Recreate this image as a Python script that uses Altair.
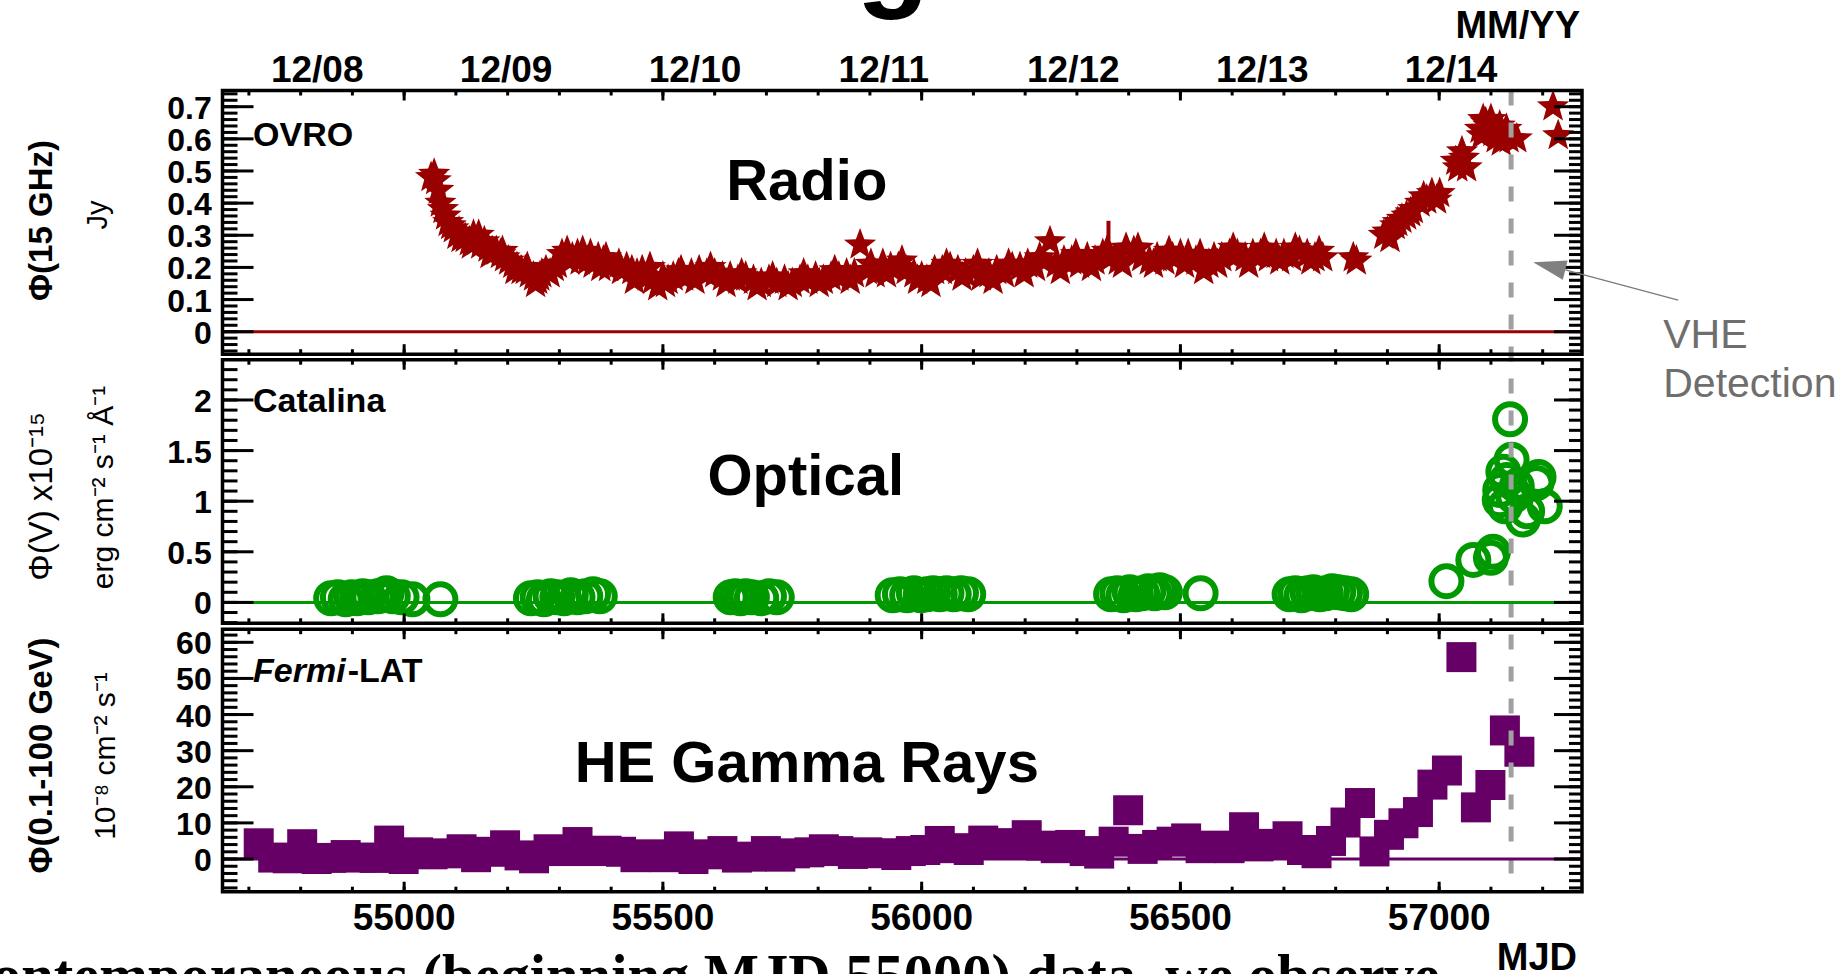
import altair as alt
import pandas as pd

# ---------------- data ----------------
radio_mjd = [55052, 55058, 55061, 55066, 55070, 55075, 55080, 55085, 55090, 55095, 55102, 55110, 55118, 55126,
             55134, 55140, 55148, 55155, 55162, 55170, 55178, 55186, 55194, 55202, 55210, 55218, 55226, 55234,
             55242, 55250, 55258, 55266, 55274, 55282, 55296, 55305, 55315, 55325, 55335, 55345, 55355, 55365,
             55375, 55385, 55395, 55420, 55430, 55440, 55450, 55460, 55470, 55480, 55490, 55500, 55510, 55520,
             55530, 55540, 55555, 55570, 55585, 55600, 55615, 55630, 55645, 55660, 55675, 55690, 55705, 55720,
             55735, 55750, 55765, 55780, 55795, 55810, 55825, 55840, 55855, 55870, 55881, 55895, 55910, 55925,
             55940, 55955, 55970, 55985, 56000, 56010, 56025, 56040, 56055, 56070, 56085, 56100, 56115, 56130,
             56145, 56160, 56175, 56190, 56205, 56220, 56235, 56248, 56260, 56275, 56290, 56305, 56320, 56335,
             56350, 56365, 56380, 56395, 56410, 56425, 56440, 56455, 56470, 56485, 56500, 56515, 56530, 56545,
             56555, 56565, 56580, 56595, 56610, 56625, 56640, 56655, 56670, 56685, 56700, 56715, 56730, 56745,
             56760, 56775, 56834, 56840, 56893, 56905, 56915, 56928, 56937, 56950, 56963, 56976, 56986, 57001,
             57032, 57040, 57044, 57053, 57079, 57085, 57095, 57104, 57110, 57117, 57125, 57150, 57220, 57230,
             55106, 55130, 55144, 55166, 55190, 55214, 55238, 55254, 55262, 55290, 55320, 55340, 55360, 55380,
             55390, 55415, 55445, 55475, 55505, 55535, 55562, 55592, 55622, 55652, 55682, 55712, 55742, 55772,
             55802, 55832, 55862, 55902, 55932, 55962, 55992, 56018, 56048, 56078, 56108, 56138, 56168, 56198,
             56228, 56268, 56298, 56328, 56358, 56388, 56418, 56448, 56478, 56508, 56538, 56572, 56602, 56632,
             56662, 56692, 56722, 56752, 56768, 56900, 56920, 56945, 56970, 56995, 57036, 57048, 57082, 57090,
             57100, 57112, 57120, 57130, 57135]
radio_flux = [0.48, 0.49, 0.47, 0.44, 0.40, 0.38, 0.36, 0.34, 0.33, 0.32, 0.30, 0.29, 0.29, 0.28,
              0.30, 0.28, 0.27, 0.28, 0.26, 0.25, 0.25, 0.24, 0.23, 0.22, 0.21, 0.20, 0.19, 0.19,
              0.18, 0.17, 0.16, 0.18, 0.19, 0.18, 0.21, 0.24, 0.25, 0.23, 0.24, 0.25, 0.22, 0.21,
              0.23, 0.22, 0.20, 0.19, 0.20, 0.19, 0.18, 0.19, 0.17, 0.16, 0.14, 0.17, 0.16, 0.17,
              0.18, 0.17, 0.18, 0.19, 0.18, 0.18, 0.17, 0.17, 0.16, 0.17, 0.16, 0.15, 0.16, 0.15,
              0.16, 0.15, 0.16, 0.16, 0.17, 0.16, 0.17, 0.17, 0.18, 0.18, 0.27, 0.19, 0.18, 0.21,
              0.20, 0.20, 0.19, 0.18, 0.17, 0.16, 0.19, 0.19, 0.20, 0.19, 0.18, 0.19, 0.17, 0.18,
              0.19, 0.18, 0.20, 0.20, 0.21, 0.20, 0.22, 0.28, 0.21, 0.22, 0.22, 0.21, 0.23, 0.22,
              0.24, 0.23, 0.22, 0.26, 0.25, 0.23, 0.22, 0.23, 0.22, 0.23, 0.24, 0.24, 0.22, 0.19,
              0.21, 0.23, 0.23, 0.24, 0.24, 0.23, 0.24, 0.24, 0.23, 0.24, 0.24, 0.23, 0.25, 0.24,
              0.23, 0.23, 0.23, 0.22, 0.30, 0.29, 0.33, 0.35, 0.36, 0.38, 0.40, 0.41, 0.43, 0.43,
              0.53, 0.53, 0.56, 0.51, 0.63, 0.66, 0.64, 0.62, 0.60, 0.64, 0.61, 0.60, 0.70, 0.61,
              0.31, 0.27, 0.30, 0.24, 0.25, 0.19, 0.20, 0.15, 0.17, 0.20, 0.22, 0.22, 0.24, 0.20,
              0.23, 0.21, 0.16, 0.20, 0.15, 0.19, 0.16, 0.20, 0.15, 0.18, 0.14, 0.17, 0.14, 0.18,
              0.15, 0.19, 0.16, 0.21, 0.18, 0.22, 0.16, 0.15, 0.21, 0.17, 0.21, 0.16, 0.21, 0.18,
              0.23, 0.19, 0.24, 0.20, 0.25, 0.21, 0.26, 0.21, 0.25, 0.21, 0.24, 0.21, 0.26, 0.21,
              0.26, 0.22, 0.26, 0.22, 0.25, 0.31, 0.34, 0.37, 0.42, 0.41, 0.51, 0.54, 0.61, 0.65,
              0.66, 0.62, 0.59, 0.63, 0.60]
radio_err_mjd = [56361]
radio_err_lo = [0.23]
radio_err_hi = [0.345]

opt_mjd = [54859, 54872, 54887, 54898, 54909, 54920, 54931, 54949, 54958, 54966, 54978, 54995, 55016, 55070,
           55245, 55258, 55270, 55283, 55296, 55309, 55322, 55335, 55350, 55365, 55378,
           55631, 55640, 55650, 55660, 55672, 55690, 55705, 55720,
           55944, 55958, 55972, 55985, 55998, 56010, 56022, 56035, 56048, 56062, 56076, 56090,
           56366, 56378, 56390, 56402, 56414, 56426, 56438, 56450, 56460, 56470, 56539,
           56711, 56722, 56734, 56746, 56757, 56769, 56781, 56793, 56805, 56818, 56830,
           57014, 57066, 57100, 57104, 57117, 57118, 57124, 57127, 57131, 57137, 57140, 57143,
           57150, 57162, 57170, 57188, 57192, 57204]
opt_flux = [0.04, 0.05, 0.03, 0.05, 0.04, 0.06, 0.05, 0.06, 0.07, 0.09, 0.06, 0.05, 0.03, 0.03,
            0.04, 0.05, 0.03, 0.06, 0.05, 0.04, 0.07, 0.05, 0.06, 0.08, 0.06,
            0.05, 0.06, 0.04, 0.06, 0.05, 0.04, 0.06, 0.05,
            0.07, 0.08, 0.07, 0.09, 0.07, 0.08, 0.09, 0.08, 0.09, 0.08, 0.09, 0.08,
            0.08, 0.09, 0.07, 0.10, 0.08, 0.09, 0.11, 0.09, 0.12, 0.10, 0.09,
            0.08, 0.09, 0.07, 0.09, 0.10, 0.08, 0.09, 0.11, 0.10, 0.09, 0.08,
            0.21, 0.42, 0.44, 0.50, 1.01, 1.11, 1.29, 0.95, 1.21, 1.81, 1.41, 1.05,
            1.15, 0.82, 0.90, 1.18, 1.24, 0.95]

gam_mjd = [54719, 54747, 54775, 54803, 54831, 54859, 54887, 54915, 54943, 54971, 54999, 55027, 55055, 55083,
           55111, 55139, 55167, 55195, 55223, 55251, 55279, 55307, 55335, 55363, 55391, 55419, 55447, 55475,
           55503, 55531, 55559, 55587, 55615, 55643, 55671, 55699, 55727, 55755, 55783, 55811, 55839, 55867,
           55895, 55923, 55951, 55979, 56007, 56035, 56063, 56091, 56119, 56147, 56175, 56203, 56231, 56259,
           56287, 56315, 56343, 56371, 56399, 56427, 56455, 56483, 56511, 56539, 56567, 56595, 56623, 56651,
           56679, 56707, 56735, 56763, 56791, 56819, 56847, 56875, 56903, 56931, 56959, 56987, 57015, 57043,
           57071, 57099, 57127, 57155]
gam_flux = [4.35, 0.4, 0.2, 4.1, 0.0, 0.3, 1.1, 0.4, 0.3, 5.1, 0.0, 1.85, 1.3, 1.57,
            2.7, 0.5, 2.0, 3.8, 1.0, 0.2, 2.7, 2.2, 4.7, 2.2, 2.3, 2.0, 0.5, 1.3,
            0.5, 3.5, 0.0, 1.3, 2.2, 0.4, 0.65, 2.2, 0.65, 1.57, 1.85, 2.7, 2.2, 1.4,
            1.85, 1.6, 1.1, 2.2, 2.5, 5.0, 3.0, 2.5, 5.1, 4.4, 4.0, 6.6, 3.7, 3.0,
            3.9, 2.2, 1.5, 4.8, 13.5, 2.8, 3.9, 4.8, 5.7, 3.0, 3.7, 3.0, 8.8, 3.5,
            4.2, 6.3, 2.5, 1.6, 5.0, 10.1, 15.5, 2.1, 6.7, 9.9, 13.0, 20.6, 24.5, 55.9,
            14.3, 20.5, 35.6, 29.7]

vhe_mjd = [57139]

date_tick_mjd = [54832, 55197, 55562, 55927, 56293, 56658, 57023]
date_tick_lab = ["12/08", "12/09", "12/10", "12/11", "12/12", "12/13", "12/14"]
mjd_tick = [55000, 55500, 56000, 56500, 57000]
mjd_tick_lab = ["55000", "55500", "56000", "56500", "57000"]
x_minor = list(range(54700, 57201, 100))
x_major = list(range(55000, 57001, 500))

radio_major = [0, 0.1, 0.2, 0.3, 0.4, 0.5, 0.6, 0.7]
radio_major_lab = ["0", "0.1", "0.2", "0.3", "0.4", "0.5", "0.6", "0.7"]
radio_minor = [round(-0.06 + 0.02 * i, 2) for i in range(41)]
opt_major = [0, 0.5, 1, 1.5, 2]
opt_major_lab = ["0", "0.5", "1", "1.5", "2"]
opt_minor = [round(-0.2 + 0.1 * i, 1) for i in range(27)]
gam_major = [0, 10, 20, 30, 40, 50, 60]
gam_major_lab = ["0", "10", "20", "30", "40", "50", "60"]
gam_minor = [-8 + 2 * i for i in range(36)]

# annotation texts (positions in data units of each panel)
radio_notes = {"t": ["OVRO", "Radio"], "x": [54708, 55778], "y": [0.578, 0.41]}
opt_notes = {"t": ["Catalina", "Optical"], "x": [54708, 55776], "y": [1.884, 1.061]}
gam_notes = {"t": ["HE Gamma Rays"], "x": [55778], "y": [21.4]}
vhe_text = {"t": ["VHE", "Detection"], "x": [57433, 57433], "y": [-0.0517, -0.2022]}
arrow_line = {"x": [57461.8], "x2": [57243.8], "y": [0.0986], "y2": [0.192]}
arrow_head = {"x": [57212.6], "y": [0.204]}

# ---------------- layout / style ----------------
W, H = 1848, 974
X0, X1 = 222.5, 1582.0
XDOM = [54649, 57276]
P_R = {"dom": [-0.070, 0.7504], "top": 90.5, "bot": 354.2}
P_O = {"dom": [-0.2065, 2.398], "top": 359.7, "bot": 623.3}
P_G = {"dom": [-9.05, 63.63], "top": 629.2, "bot": 891.7}

FONT = "Liberation Sans"
RED, GREEN, PURPLE = "#990000", "#009900", "#660066"
DASH = "#a0a0a0"
STAR = ("M0,-1L0.247,-0.34L0.951,-0.309L0.4,0.13L0.588,0.809L0,0.42L-0.588,0.809L-0.4,0.13"
        "L-0.951,-0.309L-0.247,-0.34Z")
ARROW = "M0,-1L0.6,1L-0.6,1Z"

xscale = alt.Scale(domain=XDOM, range=[X0, X1], nice=False, zero=False)


def ysc(p):
    return alt.Scale(domain=p["dom"], range=[p["bot"], p["top"]], nice=False, zero=False)


def X(f):
    return alt.X(f, scale=xscale, axis=None)


def Y(f, p):
    return alt.Y(f, scale=ysc(p), axis=None)


layers = []


def frame_and_ticks(p, ymaj, ymin, ylab, zero_color):
    top, bot = p["top"], p["bot"]
    layers.append(alt.Chart(pd.DataFrame({"x": [XDOM[0]], "x2": [XDOM[1]], "y": [0]})).mark_rule(
        color=zero_color, strokeWidth=3).encode(x=X("x:Q"), x2="x2:Q", y=Y("y:Q", p)))
    for vals, L in ((x_minor, 5), (x_major, 10)):
        df = pd.DataFrame({"v": vals})
        layers.append(alt.Chart(df).mark_rule(color="black", strokeWidth=3).encode(
            x=X("v:Q"), y=alt.value(top), y2=alt.value(top + L)))
        layers.append(alt.Chart(df).mark_rule(color="black", strokeWidth=3).encode(
            x=X("v:Q"), y=alt.value(bot), y2=alt.value(bot - L)))
    for vals, L, R in ((ymin, 15, 13), (ymaj, 31, 28)):
        df = pd.DataFrame({"v": vals})
        layers.append(alt.Chart(df).mark_rule(color="black", strokeWidth=3).encode(
            y=Y("v:Q", p), x=alt.value(X0), x2=alt.value(X0 + L)))
        layers.append(alt.Chart(df).mark_rule(color="black", strokeWidth=3).encode(
            y=Y("v:Q", p), x=alt.value(X1), x2=alt.value(X1 - R)))
    layers.append(alt.Chart(pd.DataFrame({"x": [XDOM[0]], "x2": [XDOM[1]], "y": [p["dom"][0]], "y2": [p["dom"][1]]}))
                  .mark_rect(fillOpacity=0, stroke="black", strokeWidth=3.5)
                  .encode(x=X("x:Q"), x2="x2:Q", y=Y("y:Q", p), y2="y2:Q"))
    layers.append(alt.Chart(pd.DataFrame({"v": ymaj, "t": ylab})).mark_text(
        font=FONT, fontSize=32, fontWeight="bold", align="right", baseline="middle", dy=2, color="black").encode(
        x=alt.value(211.7), y=Y("v:Q", p), text="t:N"))


def text_data(d, p, size, align, weight="bold", style="normal", color="black"):
    layers.append(alt.Chart(pd.DataFrame(d)).mark_text(
        font=FONT, fontSize=size, fontWeight=weight, fontStyle=style, align=align, baseline="alphabetic",
        color=color).encode(x=X("x:Q"), y=Y("y:Q", p), text="t:N"))


def text_px(t, x, y, size, align="center", weight="bold", angle=0, font=FONT, color="black"):
    layers.append(alt.Chart(pd.DataFrame({"t": [t]})).mark_text(
        font=font, fontSize=size, fontWeight=weight, align=align, baseline="alphabetic", angle=angle,
        color=color).encode(x=alt.value(x), y=alt.value(y), text="t:N"))


# ---------------- data marks ----------------
layers.append(alt.Chart(pd.DataFrame({"mjd": radio_mjd, "flux": radio_flux})).mark_point(
    shape=STAR, filled=True, size=1150, color=RED, opacity=1).encode(x=X("mjd:Q"), y=Y("flux:Q", P_R)))
layers.append(alt.Chart(pd.DataFrame({"mjd": radio_err_mjd, "lo": radio_err_lo, "hi": radio_err_hi})).mark_rule(
    color=RED, strokeWidth=4).encode(x=X("mjd:Q"), y=Y("lo:Q", P_R), y2="hi:Q"))
layers.append(alt.Chart(pd.DataFrame({"mjd": opt_mjd, "flux": opt_flux})).mark_point(
    shape="circle", filled=False, size=900, strokeWidth=6, color=GREEN, opacity=1).encode(
    x=X("mjd:Q"), y=Y("flux:Q", P_O)))
layers.append(alt.Chart(pd.DataFrame({"mjd": gam_mjd, "flux": gam_flux})).mark_point(
    shape="square", filled=True, size=900, color=PURPLE, opacity=1).encode(x=X("mjd:Q"), y=Y("flux:Q", P_G)))

# panel labels
text_data({"t": [radio_notes["t"][0]], "x": [radio_notes["x"][0]], "y": [radio_notes["y"][0]]}, P_R, 34, "left")
text_data({"t": [radio_notes["t"][1]], "x": [radio_notes["x"][1]], "y": [radio_notes["y"][1]]}, P_R, 58, "center")
text_data({"t": [opt_notes["t"][0]], "x": [opt_notes["x"][0]], "y": [opt_notes["y"][0]]}, P_O, 34, "left")
text_data({"t": [opt_notes["t"][1]], "x": [opt_notes["x"][1]], "y": [opt_notes["y"][1]]}, P_O, 58, "center")
text_data({"t": ["Fermi"], "x": [54708], "y": [49.09]}, P_G, 34, "left", style="italic")
text_data({"t": ["-LAT"], "x": [54891], "y": [49.09]}, P_G, 34, "left")
text_data(gam_notes, P_G, 58, "center")

# VHE dashed line through all panels
layers.append(alt.Chart(pd.DataFrame({"v": vhe_mjd})).mark_rule(
    color=DASH, strokeWidth=5, strokeDash=[15, 17]).encode(x=X("v:Q"), y=alt.value(P_R["top"]),
                                                           y2=alt.value(P_G["bot"])))

# frames, ticks, tick labels
frame_and_ticks(P_R, radio_major, radio_minor, radio_major_lab, RED)
frame_and_ticks(P_O, opt_major, opt_minor, opt_major_lab, GREEN)
frame_and_ticks(P_G, gam_major, gam_minor, gam_major_lab, PURPLE)

# x tick labels: dates on top, MJD at bottom
layers.append(alt.Chart(pd.DataFrame({"v": date_tick_mjd, "t": date_tick_lab})).mark_text(
    font=FONT, fontSize=37, fontWeight="bold", align="center", baseline="alphabetic", color="black").encode(
    x=X("v:Q"), y=alt.value(81.7), text="t:N"))
layers.append(alt.Chart(pd.DataFrame({"v": mjd_tick, "t": mjd_tick_lab})).mark_text(
    font=FONT, fontSize=37, fontWeight="bold", align="center", baseline="alphabetic", color="black").encode(
    x=X("v:Q"), y=alt.value(930), text="t:N"))
text_px("MM/YY", 1580, 38.3, 38, align="right")
text_px("MJD", 1577, 970, 38, align="right")

# y-axis titles (two lines each)
text_px("Φ(15 GHz)", 52, 220.5, 33, angle=270)
text_px("Jy", 107, 215, 29, weight="normal", angle=270)
text_px("Φ(V)  x10⁻¹⁵", 52, 496.5, 33, weight="normal", angle=270)
text_px("erg cm⁻² s⁻¹ Å⁻¹", 113, 487.5, 30, weight="normal", angle=270)
text_px("Φ(0.1-100 GeV)", 52, 755.5, 33, angle=270)
text_px("10⁻⁸ cm⁻² s⁻¹", 115, 756, 30, weight="normal", angle=270)

# VHE annotation
layers.append(alt.Chart(pd.DataFrame(arrow_line)).mark_rule(color="#7a7a7a", strokeWidth=1.3).encode(
    x=X("x:Q"), x2="x2:Q", y=Y("y:Q", P_R), y2="y2:Q"))
layers.append(alt.Chart(pd.DataFrame(arrow_head)).mark_point(
    shape=ARROW, filled=True, size=1089, angle=284, color="#808080", opacity=1).encode(
    x=X("x:Q"), y=Y("y:Q", P_R)))
text_data(vhe_text, P_R, 41, "left", weight="normal", color="#6e6e6e")

# cropped fragments of the surrounding page (title glyph above, caption below)
text_px("g", 893, -6, 120)
text_px("contemporaneous (beginning MJD 55000) data, we observe", -34, 995, 58.5, align="left",
        font="Liberation Serif")

chart = alt.layer(*layers).resolve_scale(y="independent").properties(
    width=W, height=H, autosize=alt.AutoSizeParams(type="none"), padding=0, background="white"
).configure_view(strokeWidth=0)

chart.save("out.html", embed_options={"renderer": "svg", "actions": False})
